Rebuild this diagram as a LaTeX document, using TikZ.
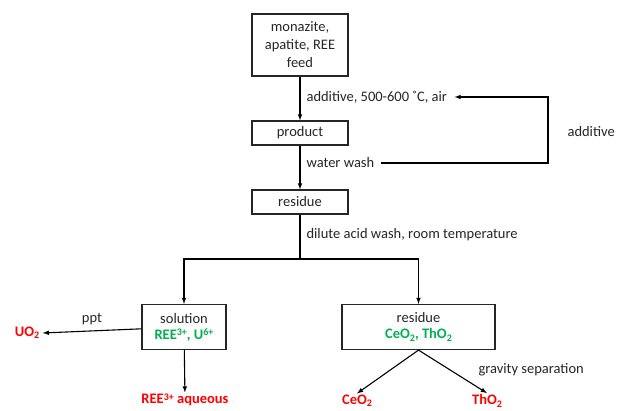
\documentclass[tikz,border=0pt]{standalone}
\usepackage{fontspec}
\setmainfont{Carlito}
\definecolor{outred}{RGB}{255,0,0}
\definecolor{ingreen}{RGB}{0,176,80}
\newcommand{\figfont}{\fontsize{14.5}{18}\selectfont}
\newcommand{\supp}[1]{\raisebox{0.45ex}{\fontsize{10}{10}\selectfont #1}}
\newcommand{\subb}[1]{\raisebox{-0.35ex}{\fontsize{10}{10}\selectfont #1}}
\tikzset{
  box/.style={draw=black!85,line width=1.2pt,align=center,inner sep=2pt},
  lbl/.style={anchor=west,inner sep=1pt},
  outp/.style={text=outred,font=\figfont\bfseries,inner sep=1pt},
}
\begin{document}
\begin{tikzpicture}[>=latex,x=1pt,y=-1pt,line width=1.1pt,font=\figfont,text=black!85]
            \useasboundingbox[fill=white] (0,0) rectangle (626,410);
            \node[box,minimum width=96,minimum height=62] (feed) at (300,45) {monazite,\\apatite, REE\\feed};
            \foreach \n/\y/\t in {prod/133/product,res/202/residue}
            {
                \node[box,minimum width=96,minimum height=24] (\n) at (300,\y) {\t};
            }
            \node[box,minimum width=84,minimum height=45] (sol) at (184,327) {solution\\[-2pt]{\color{ingreen}\bfseries REE\supp{3+}, U\supp{6+}}};
            \node[box,minimum width=153,minimum height=45] (res2) at (418.5,327) {residue\\[-2pt]{\color{ingreen}\bfseries CeO\subb{2}, ThO\subb{2}}};
            \draw[->] (feed) -- (prod);
            \draw[->] (prod) -- (res);
            \node[lbl] (add1) at (305,97) {additive, 500-600 ˚C, air};
            \node[lbl] (ww) at (305,163) {water wash};
            \node[lbl] (acid) at (305,235) {dilute acid wash, room temperature};
            \node[lbl] (add2) at (566,132) {additive};
            \coordinate (fbtop) at (548,97);
            \coordinate (fbbot) at (548,163);
            \draw[->] ([xshift=5pt]ww.east) -- (fbbot) -- (fbtop) -- ([xshift=6pt]add1.east);
            \coordinate (split) at (300,259);
            \draw (res) -- (split);
            \draw[->] (split) -| (sol);
            \draw[->] (split) -| (res2);
            \node[outp] (uo2) at (27,333) {UO\subb{2}};
            \node[outp] (reeaq) at (185,400) {REE\supp{3+} aqueous};
            \node[outp] (ceo2) at (357,401) {CeO\subb{2}};
            \node[outp] (tho2) at (487,401) {ThO\subb{2}};
            \node (ppt) at (92,319) {ppt};
            \node[lbl] (grav) at (477,370) {gravity separation};
            \draw[->] (sol) -- ([xshift=2pt]uo2.east);
            \draw[->] (sol) -- (reeaq);
            \draw[->] (res2.south) -- (ceo2.north);
            \draw[->] (res2.south) -- (tho2.north);
        \end{tikzpicture}
\end{document}
